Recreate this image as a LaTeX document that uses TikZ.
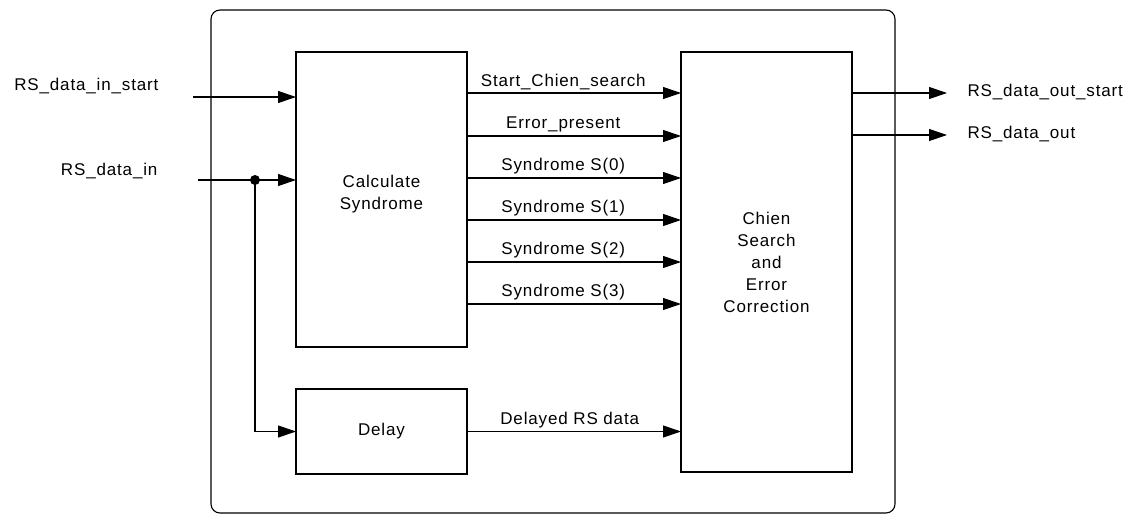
\documentclass[tikz,border=0pt]{standalone}
\usepackage{fontspec}
\setmainfont{Liberation Sans}[LetterSpace=5]
\usetikzlibrary{arrows.meta}
\begin{document}
\begin{tikzpicture}[x=1pt,y=-1pt,
  font=\fontsize{17}{22}\selectfont,
  line width=1.1pt,
  box/.style={draw, inner sep=0pt, outer sep=0pt, align=center, anchor=north west},
  arr/.style={-{Triangle[length=18pt,width=12pt]}},
  sig/.style={above, pos=0.45, inner sep=3pt},
  lbl/.style={inner sep=0pt}]
\useasboundingbox (0,0) rectangle (1132,514);
% outer frame
\node[box, rounded corners=9pt, minimum width=684pt, minimum height=503pt] (outer) at (211,10) {};
% blocks
\node[box, minimum width=171pt, minimum height=295pt, text depth=14pt] (calc) at (296,52) {Calculate\\Syndrome};
\node[box, minimum width=171pt, minimum height=85pt] (delay) at (296,389) {Delay};
\node[box, minimum width=171pt, minimum height=420pt] (chien) at (681,52) {Chien\\Search\\and\\Error\\Correction};
% inputs
\node[lbl, anchor=east] (linstart) at (159,86) {RS\_data\_in\_start};
\node[lbl, anchor=east] (lin) at (158,171) {RS\_data\_in};
\coordinate (in1) at (193,97);
\coordinate (in2) at (198,180);
\coordinate (j) at (255,180);
\draw[arr] (in1) -- (calc.west |- in1);
\draw[arr] (in2) -- (calc.west |- in2);
\fill (j) circle (5pt);
\draw[arr] (j) |- (delay.west);
% internal signals
\foreach \yy/\txt in {93/Start\_Chien\_search, 136/Error\_present, 178/Syndrome S(0), 220/Syndrome S(1), 262/Syndrome S(2), 304/Syndrome S(3)}{
  \coordinate (s\yy) at (0,\yy);
  \draw[arr] (calc.east |- s\yy) -- node[sig] {\txt} (chien.west |- s\yy);
}
\draw[arr] (delay.east) -- node[sig, pos=0.48] {Delayed RS data} (chien.west |- delay.east);
% outputs
\coordinate (o1) at (947,93);
\coordinate (o2) at (947,135);
\draw[arr] (chien.east |- o1) -- (o1);
\draw[arr] (chien.east |- o2) -- (o2);
\node[lbl, anchor=west] (loutstart) at (967,92) {RS\_data\_out\_start};
\node[lbl, anchor=west] (lout) at (967,134) {RS\_data\_out};
\end{tikzpicture}
\end{document}
